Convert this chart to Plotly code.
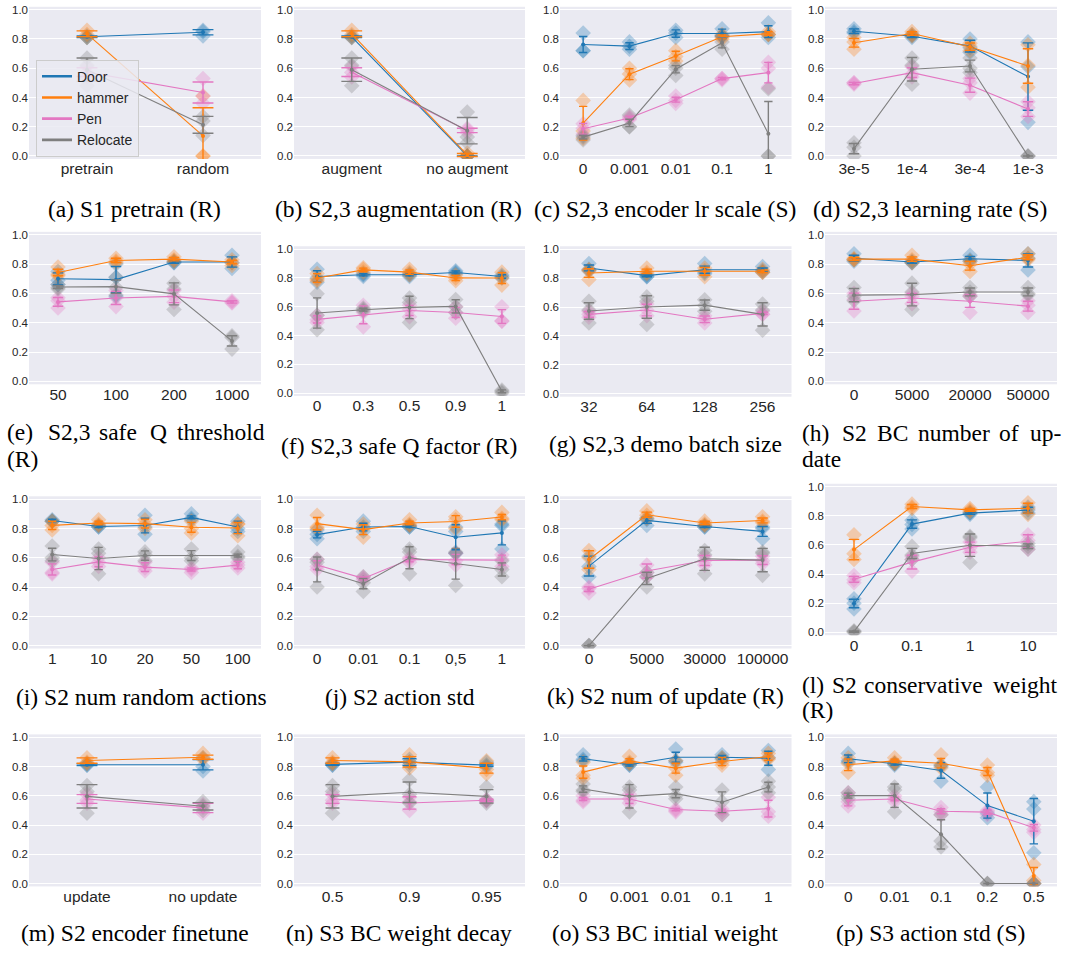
import plotly.graph_objects as go

W, H = 1067, 955
SERIES = ["Door", "hammer", "Pen", "Relocate"]
COLORS = {"Door": "#1f77b4", "hammer": "#ff7f0e", "Pen": "#e377c2", "Relocate": "#7f7f7f"}

# ---------------- data ----------------
a_cats = ["pretrain", "random"]
a_mean = {"Door": [0.815, 0.846], "hammer": [0.835, 0.137], "Pen": [0.573, 0.434], "Relocate": [0.59, 0.213]}
a_err = {"Door": [0.006, 0.018], "hammer": [0.02, 0.193], "Pen": [0.03, 0.072], "Relocate": [0.08, 0.058]}
a_seeds = {"Door": [[0.82, 0.81, 0.81], [0.86, 0.85, 0.82]], "hammer": [[0.86, 0.83, 0.81], [0.41, 0.0, 0.0]],
           "Pen": [[0.61, 0.57, 0.54], [0.53, 0.41, 0.36]], "Relocate": [[0.67, 0.62, 0.48], [0.27, 0.24, 0.14]]}

b_cats = ["augment", "no augment"]
b_mean = {"Door": [0.815, 0.0], "hammer": [0.835, 0.007], "Pen": [0.573, 0.175], "Relocate": [0.59, 0.173]}
b_err = {"Door": [0.006, 0.0], "hammer": [0.02, 0.01], "Pen": [0.03, 0.015], "Relocate": [0.08, 0.09]}
b_seeds = {"Door": [[0.82, 0.81, 0.81], [0.0, 0.0, 0.0]], "hammer": [[0.86, 0.83, 0.81], [0.02, 0.0, 0.0]],
           "Pen": [[0.61, 0.57, 0.54], [0.19, 0.18, 0.16]], "Relocate": [[0.67, 0.62, 0.48], [0.30, 0.13, 0.09]]}

c_cats = ["0", "0.001", "0.01", "0.1", "1"]
c_mean = {"Door": [0.762, 0.751, 0.837, 0.837, 0.85], "hammer": [0.224, 0.559, 0.683, 0.815, 0.837],
          "Pen": [0.186, 0.26, 0.385, 0.529, 0.57], "Relocate": [0.129, 0.226, 0.593, 0.774, 0.152]}
c_err = {"Door": [0.055, 0.023, 0.025, 0.03, 0.04], "hammer": [0.115, 0.037, 0.033, 0.012, 0.012],
         "Pen": [0.037, 0.012, 0.017, 0.008, 0.07], "Relocate": [0.013, 0.025, 0.025, 0.035, 0.22]}
c_seeds = {"Door": [[0.84, 0.72, 0.72], [0.78, 0.75, 0.73], [0.86, 0.84, 0.81], [0.87, 0.82, 0.82], [0.91, 0.83, 0.81]],
           "hammer": [[0.38, 0.17, 0.12], [0.60, 0.56, 0.52], [0.72, 0.68, 0.65], [0.83, 0.81, 0.80], [0.85, 0.83, 0.83]],
           "Pen": [[0.22, 0.19, 0.15], [0.27, 0.26, 0.25], [0.41, 0.38, 0.36], [0.53, 0.53, 0.52], [0.64, 0.60, 0.47]],
           "Relocate": [[0.14, 0.13, 0.11], [0.28, 0.20, 0.20], [0.62, 0.60, 0.55], [0.82, 0.78, 0.73], [0.46, 0.0, 0.0]]}

d_cats = ["3e-5", "1e-4", "3e-4", "1e-3"]
d_mean = {"Door": [0.853, 0.819, 0.751, 0.543], "hammer": [0.774, 0.837, 0.747, 0.615],
          "Pen": [0.495, 0.57, 0.484, 0.321], "Relocate": [0.05, 0.593, 0.615, 0.0]}
d_err = {"Door": [0.016, 0.01, 0.04, 0.23], "hammer": [0.03, 0.012, 0.025, 0.118],
         "Pen": [0.008, 0.033, 0.048, 0.05], "Relocate": [0.035, 0.08, 0.04, 0.0]}
d_seeds = {"Door": [[0.87, 0.85, 0.84], [0.83, 0.82, 0.81], [0.80, 0.74, 0.71], [0.78, 0.61, 0.23]],
           "hammer": [[0.81, 0.78, 0.73], [0.85, 0.83, 0.82], [0.77, 0.75, 0.72], [0.76, 0.62, 0.47]],
           "Pen": [[0.50, 0.50, 0.49], [0.61, 0.56, 0.54], [0.53, 0.50, 0.43], [0.37, 0.33, 0.27]],
           "Relocate": [[0.09, 0.06, 0.0], [0.67, 0.62, 0.49], [0.67, 0.60, 0.57], [0.0, 0.0, 0.0]]}

e_cats = ["50", "100", "200", "1000"]
e_mean = {"Door": [0.70, 0.694, 0.814, 0.814], "hammer": [0.743, 0.825, 0.834, 0.814],
          "Pen": [0.542, 0.569, 0.58, 0.542], "Relocate": [0.644, 0.646, 0.597, 0.276]}
e_err = {"Door": [0.04, 0.09, 0.008, 0.035], "hammer": [0.022, 0.015, 0.012, 0.012],
         "Pen": [0.03, 0.045, 0.043, 0.008], "Relocate": [0.01, 0.045, 0.075, 0.035]}
e_seeds = {"Door": [[0.75, 0.69, 0.66], [0.80, 0.71, 0.58], [0.82, 0.81, 0.81], [0.86, 0.81, 0.77]],
           "hammer": [[0.78, 0.73, 0.72], [0.84, 0.82, 0.81], [0.85, 0.83, 0.82], [0.83, 0.81, 0.79]],
           "Pen": [[0.57, 0.55, 0.50], [0.62, 0.57, 0.51], [0.62, 0.58, 0.54], [0.55, 0.54, 0.535]],
           "Relocate": [[0.66, 0.64, 0.63], [0.71, 0.64, 0.59], [0.67, 0.63, 0.49], [0.31, 0.30, 0.22]]}

f_cats = ["0", "0.3", "0.5", "0.9", "1"]
f_mean = {"Door": [0.81, 0.822, 0.822, 0.838, 0.81], "hammer": [0.80, 0.856, 0.84, 0.80, 0.799],
          "Pen": [0.512, 0.544, 0.574, 0.56, 0.532], "Relocate": [0.556, 0.579, 0.595, 0.602, 0.012]}
f_err = {"Door": [0.04, 0.008, 0.008, 0.01, 0.012], "hammer": [0.03, 0.012, 0.015, 0.018, 0.038],
         "Pen": [0.025, 0.062, 0.035, 0.035, 0.048], "Relocate": [0.105, 0.01, 0.078, 0.046, 0.01]}
f_seeds = {"Door": [[0.86, 0.80, 0.77], [0.83, 0.82, 0.81], [0.83, 0.82, 0.81], [0.85, 0.84, 0.83], [0.82, 0.81, 0.80]],
           "hammer": [[0.83, 0.79, 0.78], [0.87, 0.86, 0.84], [0.86, 0.84, 0.82], [0.82, 0.80, 0.78], [0.84, 0.80, 0.75]],
           "Pen": [[0.54, 0.51, 0.49], [0.61, 0.56, 0.46], [0.61, 0.58, 0.53], [0.60, 0.56, 0.52], [0.60, 0.50, 0.50]],
           "Relocate": [[0.69, 0.54, 0.44], [0.59, 0.58, 0.57], [0.66, 0.63, 0.49], [0.65, 0.60, 0.56], [0.02, 0.01, 0.0]]}

g_cats = ["32", "64", "128", "256"]
g_mean = {"Door": [0.87, 0.817, 0.858, 0.858], "hammer": [0.835, 0.847, 0.847, 0.847],
          "Pen": [0.549, 0.579, 0.515, 0.556], "Relocate": [0.572, 0.60, 0.613, 0.549]}
g_err = {"Door": [0.02, 0.008, 0.025, 0.012], "hammer": [0.03, 0.015, 0.027, 0.008],
         "Pen": [0.02, 0.04, 0.023, 0.008], "Relocate": [0.057, 0.078, 0.035, 0.08]}
g_seeds = {"Door": [[0.90, 0.86, 0.85], [0.82, 0.81, 0.81], [0.90, 0.84, 0.83], [0.88, 0.85, 0.84]],
           "hammer": [[0.86, 0.85, 0.79], [0.87, 0.84, 0.83], [0.87, 0.85, 0.81], [0.86, 0.84, 0.84]],
           "Pen": [[0.57, 0.55, 0.53], [0.62, 0.58, 0.54], [0.54, 0.52, 0.49], [0.57, 0.55, 0.55]],
           "Relocate": [[0.64, 0.58, 0.49], [0.67, 0.64, 0.48], [0.65, 0.61, 0.57], [0.62, 0.58, 0.44]]}

h_cats = ["0", "5000", "20000", "50000"]
h_mean = {"Door": [0.84, 0.814, 0.836, 0.825], "hammer": [0.834, 0.834, 0.789, 0.847],
          "Pen": [0.547, 0.569, 0.547, 0.513], "Relocate": [0.588, 0.592, 0.61, 0.61]}
h_err = {"Door": [0.02, 0.008, 0.017, 0.045], "hammer": [0.01, 0.015, 0.03, 0.017],
         "Pen": [0.055, 0.03, 0.042, 0.034], "Relocate": [0.045, 0.077, 0.027, 0.027]}
h_seeds = {"Door": [[0.87, 0.83, 0.82], [0.82, 0.81, 0.81], [0.86, 0.83, 0.82], [0.87, 0.84, 0.76]],
           "hammer": [[0.84, 0.83, 0.83], [0.86, 0.83, 0.81], [0.82, 0.80, 0.75], [0.87, 0.84, 0.83]],
           "Pen": [[0.60, 0.56, 0.48], [0.60, 0.58, 0.53], [0.58, 0.59, 0.47], [0.55, 0.52, 0.47]],
           "Relocate": [[0.64, 0.58, 0.55], [0.67, 0.61, 0.49], [0.64, 0.61, 0.58], [0.64, 0.60, 0.59]]}

i_cats = ["1", "10", "20", "50", "100"]
i_mean = {"Door": [0.855, 0.814, 0.82, 0.876, 0.81], "hammer": [0.821, 0.837, 0.833, 0.808, 0.803],
          "Pen": [0.52, 0.572, 0.536, 0.52, 0.55], "Relocate": [0.622, 0.595, 0.615, 0.615, 0.615]}
i_err = {"Door": [0.008, 0.008, 0.05, 0.01, 0.04], "hammer": [0.028, 0.012, 0.03, 0.034, 0.038],
         "Pen": [0.038, 0.033, 0.03, 0.01, 0.025], "Relocate": [0.043, 0.076, 0.032, 0.034, 0.01]}
i_seeds = {"Door": [[0.86, 0.85, 0.85], [0.82, 0.81, 0.81], [0.89, 0.81, 0.76], [0.90, 0.87, 0.86], [0.85, 0.80, 0.78]],
           "hammer": [[0.85, 0.82, 0.79], [0.86, 0.83, 0.82], [0.86, 0.83, 0.80], [0.85, 0.80, 0.77], [0.83, 0.83, 0.75]],
           "Pen": [[0.57, 0.50, 0.49], [0.60, 0.57, 0.54], [0.57, 0.53, 0.51], [0.53, 0.52, 0.50], [0.57, 0.55, 0.53]],
           "Relocate": [[0.68, 0.60, 0.58], [0.66, 0.63, 0.49], [0.64, 0.62, 0.58], [0.66, 0.60, 0.58], [0.64, 0.61, 0.60]]}

j_cats = ["0", "0.01", "0.1", "0,5", "1"]
j_mean = {"Door": [0.758, 0.81, 0.814, 0.74, 0.77], "hammer": [0.833, 0.792, 0.837, 0.848, 0.878],
          "Pen": [0.55, 0.459, 0.588, 0.588, 0.584], "Relocate": [0.52, 0.423, 0.60, 0.559, 0.52]}
j_err = {"Door": [0.022, 0.026, 0.008, 0.085, 0.082], "hammer": [0.042, 0.034, 0.012, 0.04, 0.018],
         "Pen": [0.03, 0.01, 0.015, 0.035, 0.034], "Relocate": [0.085, 0.035, 0.075, 0.105, 0.045]}
j_seeds = {"Door": [[0.79, 0.76, 0.73], [0.85, 0.81, 0.78], [0.82, 0.81, 0.81], [0.81, 0.78, 0.63], [0.83, 0.82, 0.66]],
           "hammer": [[0.89, 0.81, 0.80], [0.83, 0.80, 0.74], [0.86, 0.83, 0.82], [0.88, 0.86, 0.80], [0.91, 0.87, 0.86]],
           "Pen": [[0.59, 0.54, 0.52], [0.47, 0.46, 0.45], [0.60, 0.59, 0.57], [0.63, 0.58, 0.55], [0.62, 0.59, 0.54]],
           "Relocate": [[0.59, 0.57, 0.40], [0.47, 0.43, 0.37], [0.66, 0.64, 0.49], [0.64, 0.63, 0.41], [0.58, 0.52, 0.47]]}

k_cats = ["0", "5000", "30000", "100000"]
k_mean = {"Door": [0.543, 0.855, 0.814, 0.78], "hammer": [0.588, 0.894, 0.837, 0.855],
          "Pen": [0.385, 0.509, 0.581, 0.584], "Relocate": [0.0, 0.459, 0.593, 0.584]}
k_err = {"Door": [0.068, 0.02, 0.008, 0.034], "hammer": [0.06, 0.018, 0.012, 0.017],
         "Pen": [0.016, 0.048, 0.034, 0.03], "Relocate": [0.0, 0.042, 0.079, 0.08]}
k_seeds = {"Door": [[0.61, 0.54, 0.47], [0.87, 0.86, 0.82], [0.82, 0.81, 0.81], [0.81, 0.80, 0.73]],
           "hammer": [[0.65, 0.60, 0.52], [0.92, 0.89, 0.87], [0.85, 0.83, 0.82], [0.88, 0.85, 0.84]],
           "Pen": [[0.40, 0.39, 0.36], [0.55, 0.50, 0.47], [0.61, 0.58, 0.55], [0.61, 0.58, 0.56]],
           "Relocate": [[0.0, 0.0, 0.0], [0.50, 0.47, 0.40], [0.65, 0.62, 0.49], [0.64, 0.63, 0.48]]}

l_cats = ["0", "0.1", "1", "10"]
l_mean = {"Door": [0.198, 0.743, 0.818, 0.839], "hammer": [0.568, 0.864, 0.841, 0.852],
          "Pen": [0.364, 0.482, 0.584, 0.625], "Relocate": [0.005, 0.541, 0.598, 0.591]}
l_err = {"Door": [0.029, 0.029, 0.008, 0.02], "hammer": [0.07, 0.014, 0.01, 0.034],
         "Pen": [0.02, 0.047, 0.035, 0.045], "Relocate": [0.005, 0.035, 0.077, 0.016]}
l_seeds = {"Door": [[0.23, 0.20, 0.16], [0.77, 0.74, 0.71], [0.82, 0.82, 0.81], [0.86, 0.84, 0.82]],
           "hammer": [[0.67, 0.54, 0.50], [0.88, 0.86, 0.85], [0.85, 0.84, 0.83], [0.89, 0.85, 0.81]],
           "Pen": [[0.39, 0.36, 0.34], [0.52, 0.50, 0.42], [0.62, 0.58, 0.55], [0.67, 0.63, 0.57]],
           "Relocate": [[0.01, 0.005, 0.0], [0.59, 0.53, 0.50], [0.66, 0.65, 0.48], [0.61, 0.59, 0.57]]}

m_cats = ["update", "no update"]
m_mean = {"Door": [0.812, 0.812], "hammer": [0.841, 0.864], "Pen": [0.578, 0.517], "Relocate": [0.596, 0.528]}
m_err = {"Door": [0.006, 0.035], "hammer": [0.018, 0.014], "Pen": [0.03, 0.032], "Relocate": [0.08, 0.025]}
m_seeds = {"Door": [[0.82, 0.81, 0.81], [0.86, 0.80, 0.77]], "hammer": [[0.86, 0.83, 0.82], [0.89, 0.86, 0.85]],
           "Pen": [[0.61, 0.57, 0.55], [0.54, 0.52, 0.48]], "Relocate": [[0.67, 0.63, 0.48], [0.56, 0.53, 0.50]]}

n_cats = ["0.5", "0.9", "0.95"]
n_mean = {"Door": [0.815, 0.83, 0.81], "hammer": [0.841, 0.832, 0.789],
          "Pen": [0.578, 0.551, 0.569], "Relocate": [0.596, 0.624, 0.596]}
n_err = {"Door": [0.006, 0.024, 0.008], "hammer": [0.018, 0.036, 0.034],
         "Pen": [0.03, 0.042, 0.008], "Relocate": [0.08, 0.07, 0.046]}
n_seeds = {"Door": [[0.82, 0.81, 0.81], [0.85, 0.83, 0.81], [0.83, 0.81, 0.80]],
           "hammer": [[0.86, 0.83, 0.82], [0.88, 0.83, 0.79], [0.84, 0.78, 0.75]],
           "Pen": [[0.61, 0.57, 0.55], [0.59, 0.56, 0.50], [0.575, 0.57, 0.56]],
           "Relocate": [[0.67, 0.63, 0.48], [0.71, 0.61, 0.55], [0.66, 0.57, 0.55]]}

o_cats = ["0", "0.001", "0.01", "0.1", "1"]
o_mean = {"Door": [0.853, 0.812, 0.864, 0.864, 0.857], "hammer": [0.762, 0.839, 0.789, 0.834, 0.868],
          "Pen": [0.578, 0.578, 0.506, 0.494, 0.512], "Relocate": [0.646, 0.596, 0.615, 0.556, 0.66]}
o_err = {"Door": [0.015, 0.008, 0.034, 0.012, 0.048], "hammer": [0.042, 0.015, 0.034, 0.028, 0.025],
         "Pen": [0.01, 0.031, 0.008, 0.015, 0.057], "Relocate": [0.022, 0.08, 0.028, 0.071, 0.033]}
o_seeds = {"Door": [[0.88, 0.85, 0.84], [0.82, 0.81, 0.81], [0.92, 0.84, 0.83], [0.88, 0.86, 0.85], [0.91, 0.86, 0.78]],
           "hammer": [[0.83, 0.74, 0.72], [0.87, 0.83, 0.82], [0.84, 0.79, 0.74], [0.86, 0.83, 0.81], [0.89, 0.86, 0.85]],
           "Pen": [[0.60, 0.57, 0.56], [0.61, 0.58, 0.55], [0.51, 0.50, 0.49], [0.51, 0.49, 0.47], [0.59, 0.49, 0.46]],
           "Relocate": [[0.68, 0.64, 0.63], [0.66, 0.64, 0.49], [0.66, 0.60, 0.58], [0.64, 0.56, 0.47], [0.70, 0.66, 0.62]]}

p_cats = ["0", "0.01", "0.1", "0.2", "0.5"]
p_mean = {"Door": [0.853, 0.819, 0.773, 0.533, 0.426], "hammer": [0.812, 0.839, 0.823, 0.766, 0.052],
          "Pen": [0.569, 0.578, 0.494, 0.488, 0.381], "Relocate": [0.601, 0.601, 0.336, 0.0, 0.0]}
p_err = {"Door": [0.026, 0.008, 0.053, 0.086, 0.155], "hammer": [0.04, 0.012, 0.032, 0.027, 0.057],
         "Pen": [0.038, 0.012, 0.017, 0.015, 0.023], "Relocate": [0.017, 0.08, 0.1, 0.0, 0.0]}
p_seeds = {"Door": [[0.89, 0.84, 0.83], [0.82, 0.82, 0.81], [0.81, 0.80, 0.70], [0.66, 0.48, 0.45], [0.56, 0.51, 0.21]],
           "hammer": [[0.86, 0.82, 0.76], [0.86, 0.83, 0.82], [0.88, 0.81, 0.79], [0.81, 0.76, 0.74], [0.13, 0.02, 0.0]],
           "Pen": [[0.62, 0.56, 0.53], [0.60, 0.58, 0.56], [0.52, 0.49, 0.47], [0.50, 0.49, 0.47], [0.40, 0.37, 0.35]],
           "Relocate": [[0.62, 0.60, 0.58], [0.66, 0.64, 0.49], [0.47, 0.29, 0.25], [0.0, 0.0, 0.0], [0.0, 0.0, 0.0]]}

y_ticks = [0.0, 0.2, 0.4, 0.6, 0.8, 1.0]

PANELS = [
    (a_cats, a_mean, a_err, a_seeds), (b_cats, b_mean, b_err, b_seeds),
    (c_cats, c_mean, c_err, c_seeds), (d_cats, d_mean, d_err, d_seeds),
    (e_cats, e_mean, e_err, e_seeds), (f_cats, f_mean, f_err, f_seeds),
    (g_cats, g_mean, g_err, g_seeds), (h_cats, h_mean, h_err, h_seeds),
    (i_cats, i_mean, i_err, i_seeds), (j_cats, j_mean, j_err, j_seeds),
    (k_cats, k_mean, k_err, k_seeds), (l_cats, l_mean, l_err, l_seeds),
    (m_cats, m_mean, m_err, m_seeds), (n_cats, n_mean, n_err, n_seeds),
    (o_cats, o_mean, o_err, o_seeds), (p_cats, p_mean, p_err, p_seeds),
]

# ---------------- layout (pixel boxes: left, right, top, bottom) ----------------
C1, C2, C3, C4 = (29, 261), (294, 525), (560, 791.5), (825, 1057)
BOXES = [
    C1 + (3.8, 156.9), C2 + (3.8, 156.9), C3 + (3.8, 156.9), C4 + (3.8, 156.9),
    C1 + (230.3, 383.7), C2 + (244.8, 395.4), C3 + (244.8, 396.2), C4 + (230.3, 383.7),
    C1 + (496.4, 649.6), C2 + (496.4, 649.6), C3 + (496.4, 649.6), C4 + (483.8, 636.2),
    C1 + (736, 889), C2 + (736, 889), C3 + (736, 889), C4 + (736, 889),
]

CAPTIONS = [
    ("(a) S1 pretrain (R)", 134, 207), ("(b) S2,3 augmentation (R)", 398, 207),
    ("(c) S2,3 encoder lr scale (S)", 665, 207), ("(d) S2,3 learning rate (S)", 930, 207),
    ("(f) S2,3 safe Q factor (R)", 399, 446), ("(g) S2,3 demo batch size", 665, 444),
    ("(i) S2 num random actions", 141, 698), ("(j) S2 action std", 400, 698),
    ("(k) S2 num of update (R)", 665, 697),
    ("(m) S2 encoder finetune", 135, 936), ("(n) S3 BC weight decay", 399, 936),
    ("(o) S3 BC initial weight", 665, 936), ("(p) S3 action std (S)", 930, 936),
]
# justified captions: (word, left x, center y)
WORDS = [
    ("(e)", 5, 432), ("S2,3", 46, 432), ("safe", 97, 432), ("Q", 147.5, 432), ("threshold", 175, 432),
    ("(R)", 5, 459),
    ("(h)", 800, 433), ("S2", 840, 433), ("BC", 875, 433), ("number", 916, 433), ("of", 997, 433),
    ("up-", 1028, 433), ("date", 800, 459),
    ("(l)", 800, 686), ("S2", 830, 686), ("conservative", 862, 686), ("weight", 991, 686), ("(R)", 800, 711),
]

TICK_COLOR = "#262626"
SANS = "Liberation Sans"
SERIF = "Liberation Serif"
CAP_SIZE = 23.5

fig = go.Figure()
layout = {}

for idx, ((cats, mean, err, seeds), (l, r, t, b)) in enumerate(zip(PANELS, BOXES)):
    k = idx + 1
    xs = "x" if k == 1 else f"x{k}"
    ys = "y" if k == 1 else f"y{k}"
    n = len(cats)
    cat_px = (r - l) / n
    # seed diamonds first
    for s in SERIES:
        sx, sy = [], []
        for ci, cat in enumerate(cats):
            for v in seeds[s][ci]:
                sx.append(cat)
                sy.append(v)
        fig.add_trace(go.Scatter(
            x=sx, y=sy, mode="markers", xaxis=xs, yaxis=ys, showlegend=False, hoverinfo="skip",
            marker=dict(symbol="diamond", size=12, color=COLORS[s], opacity=0.3, line=dict(width=0)),
        ))
    # mean lines + error bars
    for s in SERIES:
        fig.add_trace(go.Scatter(
            x=cats, y=mean[s], mode="lines+markers", xaxis=xs, yaxis=ys, showlegend=False,
            line=dict(color=COLORS[s], width=1.1),
            marker=dict(size=4, color=COLORS[s]),
            error_y=dict(type="data", array=err[s], visible=True, color=COLORS[s],
                         thickness=1.4, width=max(4, 0.09 * cat_px)),
        ))
    layout["xaxis" if k == 1 else f"xaxis{k}"] = dict(
        domain=[l / W, r / W], anchor=ys, type="category", categoryorder="array", categoryarray=cats,
        range=[-0.5, n - 0.5], showgrid=False, zeroline=False, showline=False, ticks="", ticklen=0,
        ticklabelstandoff=-1,
        tickfont=dict(family=SANS, size=15.5, color=TICK_COLOR), fixedrange=True,
    )
    layout["yaxis" if k == 1 else f"yaxis{k}"] = dict(
        domain=[1 - b / H, 1 - t / H], anchor=xs, range=[-0.02, 1.02], tickvals=y_ticks, tickformat=".1f",
        showgrid=True, gridcolor="white", gridwidth=1, zeroline=False, showline=False, ticks="", ticklen=0,
        tickfont=dict(family=SANS, size=11.5, color=TICK_COLOR), fixedrange=True,
    )

# legend entries (drawn by plotly's legend, placed in panel a)
for s in SERIES:
    fig.add_trace(go.Scatter(x=[None], y=[None], mode="lines", name=s, xaxis="x", yaxis="y",
                             line=dict(color=COLORS[s], width=2.6)))

annotations = []
for text, cx, cy in CAPTIONS:
    annotations.append(dict(text=text, x=cx / W, y=1 - cy / H, xref="paper", yref="paper",
                            xanchor="center", yanchor="middle", showarrow=False,
                            font=dict(family=SERIF, size=CAP_SIZE, color="black")))
for text, lx, cy in WORDS:
    annotations.append(dict(text=text, x=lx / W, y=1 - cy / H, xref="paper", yref="paper",
                            xanchor="left", yanchor="middle", showarrow=False,
                            font=dict(family=SERIF, size=CAP_SIZE, color="black")))

fig.update_layout(
    width=W, height=H, margin=dict(l=0, r=0, t=0, b=0),
    paper_bgcolor="white", plot_bgcolor="#EAEAF2",
    font=dict(family=SANS, color=TICK_COLOR),
    showlegend=True,
    legend=dict(x=36 / W, y=1 - 57 / H, xanchor="left", yanchor="top",
                bgcolor="rgba(234,234,242,0.85)", bordercolor="#cccccc", borderwidth=1,
                font=dict(family=SANS, size=14, color=TICK_COLOR), tracegroupgap=0),
    annotations=annotations,
    **layout,
)

# remove the browser's default 8px page margin so the figure sits at (0, 0)
fig.write_html(
    "out.html",
    config={"displayModeBar": False, "staticPlot": False},
    post_script="document.body.style.margin='0';document.body.style.overflow='hidden';",
)
